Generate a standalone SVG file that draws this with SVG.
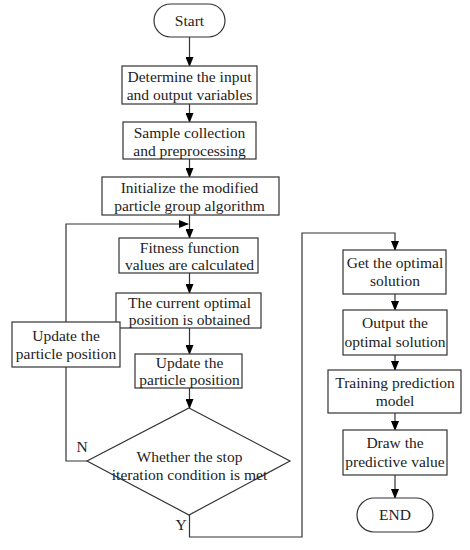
<svg xmlns="http://www.w3.org/2000/svg" width="470" height="550" viewBox="0 0 470 550">
<defs>
<marker id="arr" markerWidth="10" markerHeight="8" refX="9" refY="4" orient="auto" markerUnits="userSpaceOnUse">
<path d="M0,0 L10,4 L0,8 Z" fill="#000"/>
</marker>
<style>
.n{fill:#fff;stroke:#333;stroke-width:1.2}
.c{fill:none;stroke:#333;stroke-width:1.2}
text{font-family:"Liberation Serif","Times New Roman",serif;font-size:15.5px;fill:#222;text-anchor:middle}
</style>
</defs>
<rect width="470" height="550" fill="#fff"/>
<g id="connectors">
<line class="c" x1="189.5" y1="37" x2="189.5" y2="66" marker-end="url(#arr)"/>
<line class="c" x1="189.5" y1="104" x2="189.5" y2="122" marker-end="url(#arr)"/>
<line class="c" x1="189.5" y1="159" x2="189.5" y2="177" marker-end="url(#arr)"/>
<line class="c" x1="189.5" y1="215" x2="189.5" y2="238" marker-end="url(#arr)"/>
<line class="c" x1="189.5" y1="273" x2="189.5" y2="293" marker-end="url(#arr)"/>
<line class="c" x1="189.5" y1="328" x2="189.5" y2="354" marker-end="url(#arr)"/>
<line class="c" x1="189.5" y1="388" x2="189.5" y2="408" marker-end="url(#arr)"/>
<polyline class="c" points="87,461 66,461 66,224 188,224" marker-end="url(#arr)"/>
<polyline class="c" points="189.5,515 189.5,537 302,537 302,233 395,233 395,250" marker-end="url(#arr)"/>
<line class="c" x1="395" y1="294" x2="395" y2="310" marker-end="url(#arr)"/>
<line class="c" x1="395" y1="355" x2="395" y2="370" marker-end="url(#arr)"/>
<line class="c" x1="395" y1="413" x2="395" y2="430" marker-end="url(#arr)"/>
<line class="c" x1="395" y1="475" x2="395" y2="498" marker-end="url(#arr)"/>
<text x="82" y="452">N</text>
<text x="181" y="530">Y</text>
</g>
<g id="start"><rect class="n" x="154" y="4" width="71" height="33" rx="16.5"/><text x="189.5" y="26">Start</text></g>
<g id="determine"><rect class="n" x="122" y="66" width="135" height="38"/><text x="189.5" y="82">Determine the input</text><text x="189.5" y="100">and output variables</text></g>
<g id="sample"><rect class="n" x="123" y="122" width="133" height="37"/><text x="189.5" y="138">Sample collection</text><text x="189.5" y="156">and preprocessing</text></g>
<g id="init"><rect class="n" x="102" y="177" width="177" height="38"/><text x="189.5" y="193">Initialize the modified</text><text x="189.5" y="211">particle group algorithm</text></g>
<g id="fitness"><rect class="n" x="119" y="238" width="139" height="35"/><text x="189.5" y="253">Fitness function</text><text x="189.5" y="270">values are calculated</text></g>
<g id="current"><rect class="n" x="116" y="293" width="145" height="35"/><text x="189.5" y="308">The current optimal</text><text x="189.5" y="325">position is obtained</text></g>
<g id="update-left"><rect class="n" x="12" y="322" width="108" height="45"/><text x="66" y="341">Update the</text><text x="66" y="359">particle position</text></g>
<g id="update"><rect class="n" x="135" y="354" width="107" height="34"/><text x="189.5" y="368">Update the</text><text x="189.5" y="385">particle position</text></g>
<g id="decision"><polygon class="n" points="189,408 290,461 189,515 87,461"/><text x="189.5" y="462">Whether the stop</text><text x="189.5" y="480">iteration condition is met</text></g>
<g id="get"><rect class="n" x="343" y="250" width="103" height="44"/><text x="395" y="268">Get the optimal</text><text x="395" y="286">solution</text></g>
<g id="output"><rect class="n" x="343" y="310" width="104" height="45"/><text x="395" y="328">Output the</text><text x="395" y="347">optimal solution</text></g>
<g id="training"><rect class="n" x="328" y="370" width="133" height="43"/><text x="395" y="388">Training prediction</text><text x="395" y="406">model</text></g>
<g id="draw"><rect class="n" x="343" y="430" width="104" height="45"/><text x="395" y="448">Draw the</text><text x="395" y="467">predictive value</text></g>
<g id="end"><rect class="n" x="357" y="498" width="76" height="34" rx="17"/><text x="395" y="520">END</text></g>
</svg>
